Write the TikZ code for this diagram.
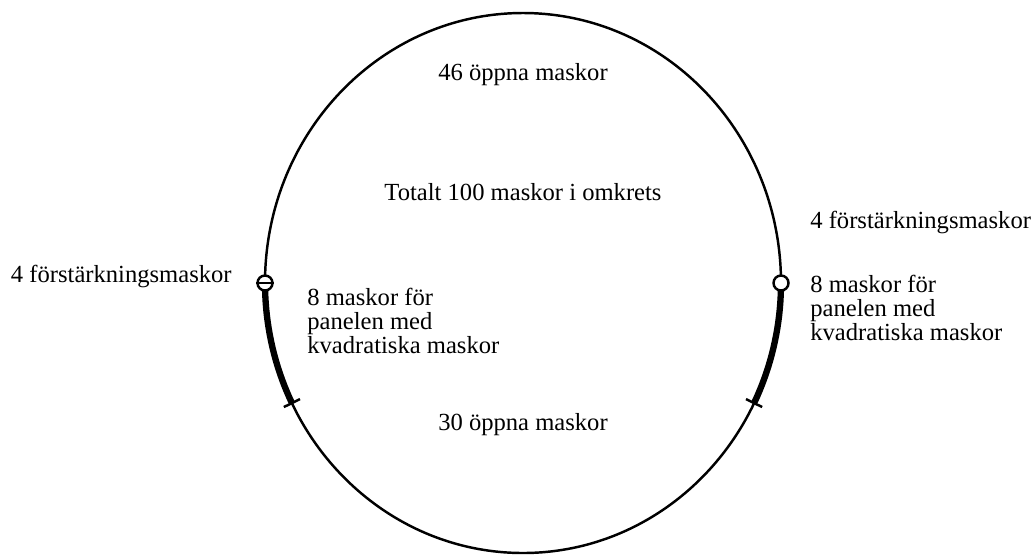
\documentclass[tikz,border=0pt]{standalone}
\usepackage{fontspec}
\setmainfont{Liberation Serif}
\usetikzlibrary{calc}

\tikzset{
  net/.style={line width=1.4pt},
  panel/.style={line width=3.6pt},
  knot/.style={circle, draw, fill=white, line width=1.4pt, inner sep=0pt, minimum size=0.3cm},
  lbl/.style={font=\fontsize{14}{13.8}\selectfont, inner sep=0pt, align=left}
}

\begin{document}
\begin{tikzpicture}[x=0.02cm, y=-0.02cm]
        \useasboundingbox (0,0) rectangle (1035,556);

        % the net seen from below
        \coordinate (c) at (523,283);
        \draw[net] (c) ellipse [x radius=258, y radius=270];

        % panel with square meshes on both sides
        \draw[panel] plot[domain=153.6:180, samples=20] ({523+258*cos(\x)}, {283+270*sin(\x)});
        \draw[panel] plot[domain=0:26.4, samples=20] ({523+258*cos(\x)}, {283+270*sin(\x)});
        \draw[net] ($(c)+(153.6:249 and 261)$) -- ($(c)+(153.6:267 and 279)$);
        \draw[net] ($(c)+(26.4:249 and 261)$) -- ($(c)+(26.4:267 and 279)$);

        \node[knot] (lknot) at ($(c)+(180:258 and 270)$) {};
        \draw[net] (lknot.west) -- (lknot.east);
        \node[knot] (rknot) at ($(c)+(0:258 and 270)$) {};

        % texts
        \node[lbl] (opentop) at (523,75) {46 öppna maskor};
        \node[lbl] (total) at (523,192) {Totalt 100 maskor i omkrets};
        \node[lbl] (openbot) at (523,425) {30 öppna maskor};

        \node[lbl, anchor=east] (lreinf) at (232,276) {4 förstärkningsmaskor};
        \node[lbl, anchor=west] (lpanel) at (307,321) {8 maskor för\\panelen med\\kvadratiska maskor};

        \node[lbl, anchor=west] (rreinf) at (810,222) {4 förstärkningsmaskor};
        \node[lbl, anchor=west] (rpanel) at (810,308) {8 maskor för\\panelen med\\kvadratiska maskor};

\end{tikzpicture}
\end{document}
